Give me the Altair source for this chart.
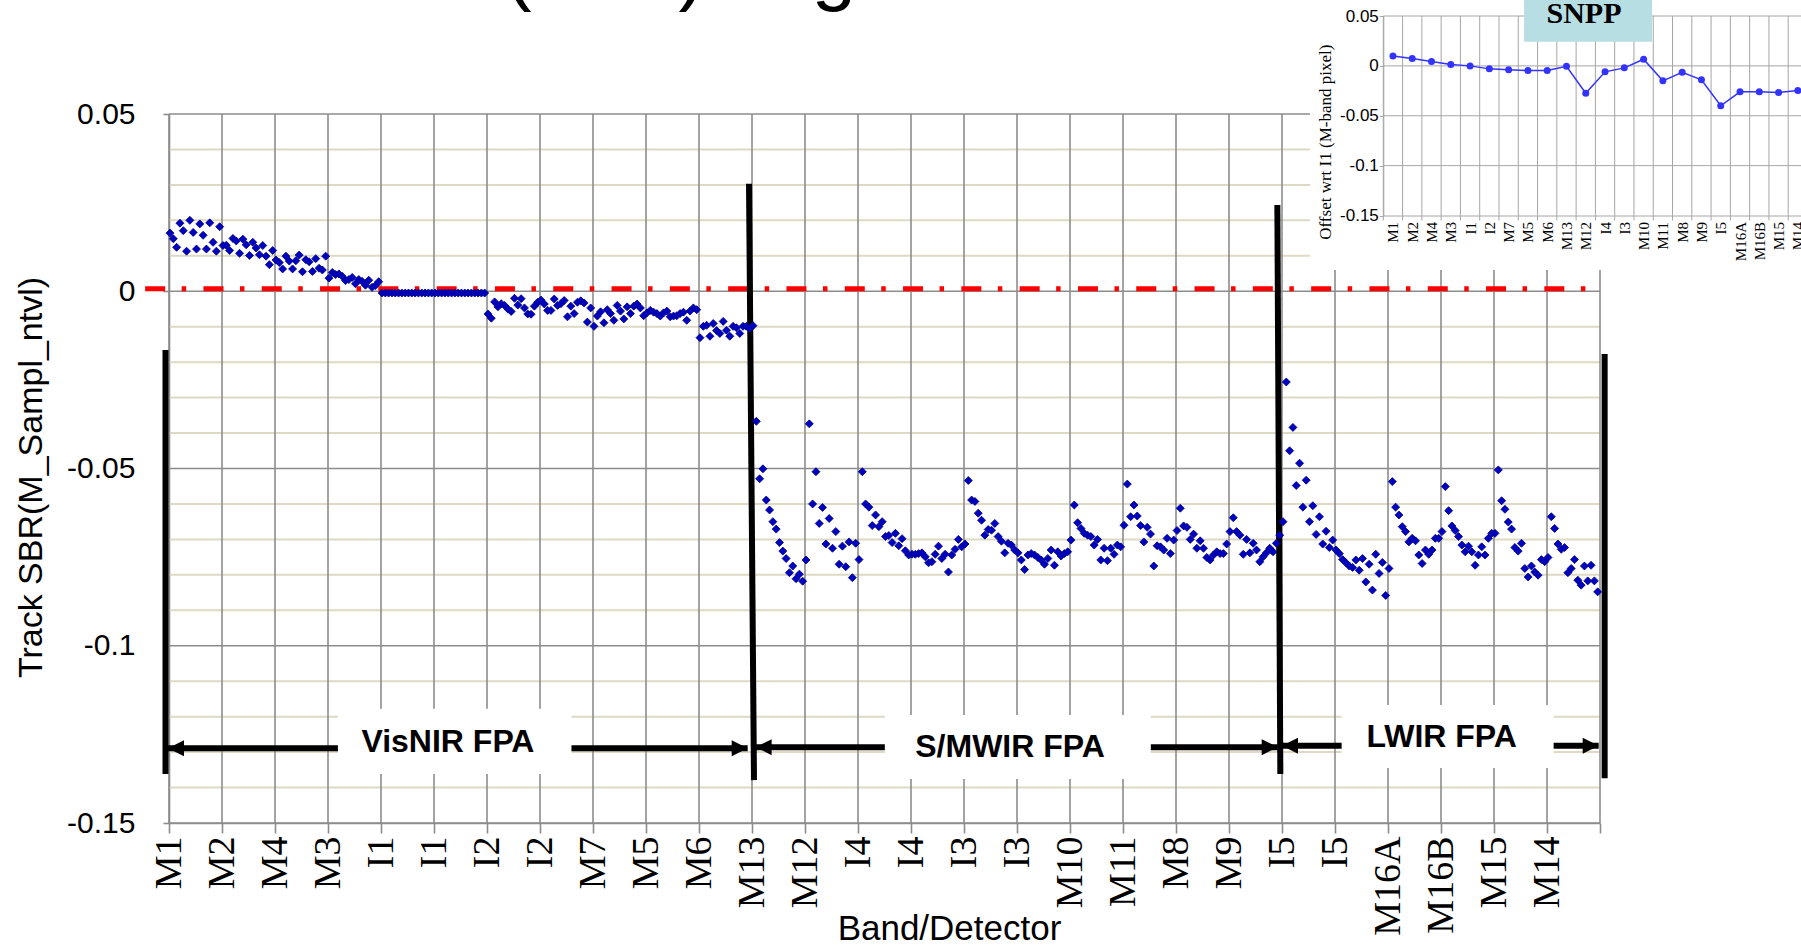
import altair as alt
import pandas as pd

# ---------------- main chart data: 16 detector values per tick interval ----------------
tick_labels = ["M1", "M2", "M4", "M3", "I1", "I1", "I2", "I2", "M7", "M5", "M6", "M13",
               "M12", "I4", "I4", "I3", "I3", "M10", "M11", "M8", "M9", "I5", "I5",
               "M16A", "M16B", "M15", "M14"]

sbr_M1 = [0.0164, 0.0148, 0.0124, 0.0192, 0.0171, 0.0113, 0.0200, 0.0166,
          0.0119, 0.0190, 0.0158, 0.0119, 0.0193, 0.0138, 0.0113, 0.0182]
sbr_M2 = [0.0129, 0.0130, 0.0115, 0.0149, 0.0142, 0.0107, 0.0147, 0.0131,
          0.0101, 0.0138, 0.0122, 0.0103, 0.0129, 0.0099, 0.0075, 0.0115]
sbr_M4 = [0.0088, 0.0081, 0.0063, 0.0099, 0.0085, 0.0063, 0.0086, 0.0102,
          0.0055, 0.0089, 0.0083, 0.0056, 0.0092, 0.0065, 0.0060, 0.0099]
sbr_M3 = [0.0037, 0.0053, 0.0047, 0.0049, 0.0042, 0.0030, 0.0033, 0.0039,
          0.0021, 0.0033, 0.0028, 0.0017, 0.0031, 0.0011, 0.0016, 0.0027]
sbr_I1a = [-0.0005, -0.0005, -0.0005, -0.0005, -0.0005, -0.0005, -0.0005, -0.0005,
           -0.0005, -0.0005, -0.0005, -0.0005, -0.0005, -0.0005, -0.0005, -0.0005]
sbr_I1b = [-0.0005, -0.0005, -0.0005, -0.0005, -0.0005, -0.0005, -0.0005, -0.0005,
           -0.0005, -0.0005, -0.0005, -0.0005, -0.0005, -0.0005, -0.0005, -0.0005]
sbr_I2a = [-0.0064, -0.0076, -0.0030, -0.0044, -0.0035, -0.0040, -0.0050, -0.0057,
           -0.0020, -0.0039, -0.0021, -0.0047, -0.0064, -0.0065, -0.0042, -0.0031]
sbr_I2b = [-0.0025, -0.0036, -0.0054, -0.0054, -0.0022, -0.0040, -0.0035, -0.0026,
           -0.0072, -0.0042, -0.0063, -0.0031, -0.0027, -0.0033, -0.0087, -0.0047]
sbr_M7 = [-0.0099, -0.0070, -0.0058, -0.0089, -0.0052, -0.0063, -0.0082, -0.0040,
          -0.0056, -0.0078, -0.0044, -0.0063, -0.0042, -0.0036, -0.0047, -0.0069]
sbr_M5 = [-0.0061, -0.0054, -0.0059, -0.0063, -0.0070, -0.0061, -0.0056, -0.0072,
          -0.0070, -0.0069, -0.0063, -0.0059, -0.0082, -0.0056, -0.0047, -0.0052]
sbr_M6 = [-0.0131, -0.0099, -0.0096, -0.0127, -0.0091, -0.0111, -0.0119, -0.0085,
          -0.0110, -0.0127, -0.0099, -0.0103, -0.0119, -0.0099, -0.0099, -0.0105]
sbr_M13 = [-0.0097, -0.0367, -0.0529, -0.0501, -0.0589, -0.0617, -0.0650, -0.0671,
           -0.0709, -0.0733, -0.0754, -0.0794, -0.0775, -0.0811, -0.0798, -0.0818]
sbr_M12 = [-0.0758, -0.0374, -0.0600, -0.0509, -0.0655, -0.0610, -0.0713, -0.0641,
           -0.0725, -0.0678, -0.0770, -0.0719, -0.0777, -0.0707, -0.0808, -0.0711]
sbr_I4a = [-0.0757, -0.0509, -0.0600, -0.0609, -0.0661, -0.0631, -0.0664, -0.0650,
           -0.0692, -0.0689, -0.0709, -0.0683, -0.0718, -0.0698, -0.0732, -0.0744]
sbr_I4b = [-0.0742, -0.0742, -0.0740, -0.0738, -0.0749, -0.0766, -0.0763, -0.0742,
           -0.0719, -0.0754, -0.0742, -0.0792, -0.0744, -0.0728, -0.0700, -0.0721]
sbr_I3a = [-0.0713, -0.0534, -0.0589, -0.0593, -0.0626, -0.0646, -0.0688, -0.0672,
           -0.0674, -0.0655, -0.0692, -0.0705, -0.0738, -0.0711, -0.0716, -0.0730]
sbr_I3b = [-0.0738, -0.0758, -0.0785, -0.0744, -0.0740, -0.0744, -0.0751, -0.0758,
           -0.0770, -0.0754, -0.0730, -0.0773, -0.0735, -0.0747, -0.0740, -0.0735]
sbr_M10 = [-0.0702, -0.0603, -0.0653, -0.0669, -0.0683, -0.0688, -0.0692, -0.0716,
           -0.0700, -0.0758, -0.0725, -0.0760, -0.0725, -0.0742, -0.0716, -0.0721]
sbr_M11 = [-0.0660, -0.0544, -0.0636, -0.0603, -0.0634, -0.0661, -0.0707, -0.0666,
           -0.0685, -0.0775, -0.0718, -0.0721, -0.0730, -0.0697, -0.0740, -0.0702]
sbr_M8 = [-0.0675, -0.0612, -0.0662, -0.0666, -0.0700, -0.0685, -0.0725, -0.0704,
          -0.0725, -0.0751, -0.0758, -0.0744, -0.0735, -0.0740, -0.0740, -0.0713]
sbr_M9 = [-0.0678, -0.0639, -0.0678, -0.0688, -0.0742, -0.0700, -0.0738, -0.0711,
          -0.0730, -0.0763, -0.0749, -0.0738, -0.0725, -0.0735, -0.0711, -0.0688]
sbr_I5a = [-0.0650, -0.0256, -0.0450, -0.0384, -0.0548, -0.0485, -0.0609, -0.0533,
           -0.0650, -0.0605, -0.0686, -0.0636, -0.0713, -0.0677, -0.0723, -0.0702]
sbr_I5b = [-0.0730, -0.0740, -0.0757, -0.0766, -0.0775, -0.0779, -0.0758, -0.0787,
           -0.0754, -0.0820, -0.0770, -0.0843, -0.0742, -0.0796, -0.0765, -0.0858]
sbr_M16A = [-0.0782, -0.0537, -0.0609, -0.0631, -0.0664, -0.0678, -0.0707, -0.0697,
            -0.0704, -0.0744, -0.0768, -0.0730, -0.0742, -0.0730, -0.0697, -0.0697]
sbr_M16B = [-0.0678, -0.0551, -0.0619, -0.0662, -0.0675, -0.0692, -0.0716, -0.0735,
            -0.0719, -0.0735, -0.0773, -0.0744, -0.0721, -0.0744, -0.0697, -0.0683]
sbr_M15 = [-0.0683, -0.0504, -0.0591, -0.0615, -0.0651, -0.0671, -0.0723, -0.0733,
           -0.0711, -0.0782, -0.0806, -0.0775, -0.0792, -0.0801, -0.0757, -0.0763]
sbr_M14 = [-0.0751, -0.0636, -0.0669, -0.0713, -0.0728, -0.0723, -0.0794, -0.0782,
           -0.0757, -0.0815, -0.0829, -0.0775, -0.0817, -0.0773, -0.0817, -0.0848]

segments = [sbr_M1, sbr_M2, sbr_M4, sbr_M3, sbr_I1a, sbr_I1b, sbr_I2a, sbr_I2b,
            sbr_M7, sbr_M5, sbr_M6, sbr_M13, sbr_M12, sbr_I4a, sbr_I4b, sbr_I3a,
            sbr_I3b, sbr_M10, sbr_M11, sbr_M8, sbr_M9, sbr_I5a, sbr_I5b, sbr_M16A,
            sbr_M16B, sbr_M15, sbr_M14]

# ---------------- inset (SNPP) data ----------------
snpp_bands = ["M1", "M2", "M4", "M3", "I1", "I2", "M7", "M5", "M6", "M13", "M12",
              "I4", "I3", "M10", "M11", "M8", "M9", "I5", "M16A", "M16B", "M15", "M14"]
snpp_offset = [0.0100, 0.0074, 0.0043, 0.0013, 0.0000, -0.0030, -0.0040, -0.0047,
               -0.0047, -0.0005, -0.0274, -0.0060, -0.0020, 0.0067, -0.0150, -0.0064,
               -0.0140, -0.0400, -0.0260, -0.0260, -0.0268, -0.0248]

# ---------------- annotations (in data units) ----------------
fpa_names = ["VisNIR FPA", "S/MWIR FPA", "LWIR FPA"]
fpa_text_x = [84.2, 253.9, 384.2]
fpa_text_y = [-0.1300, -0.1313, -0.1285]
fpa_arrow_y = [-0.1289, -0.1286, -0.1282]
fpa_left_tip = [-0.3, 177.1, 336.0]
fpa_box_x0 = [51.0, 216.1, 354.0]
fpa_box_x1 = [121.5, 296.4, 418.0]
fpa_right_tip = [174.7, 334.7, 431.6]
fpa_box_y0 = [-0.1362, -0.1376, -0.1345]
fpa_box_y1 = [-0.1178, -0.1195, -0.1167]

div_x_top = [-1.06, 175.1, 334.6, 433.4]
div_x_bot = [-1.06, 176.6, 335.5, 433.4]
div_y_top = [-0.0166, 0.0303, 0.0243, -0.0177]
div_y_bot = [-0.1362, -0.1379, -0.1362, -0.1374]

# ---------------- build tables ----------------
values = [v for seg in segments for v in seg]
det_df = pd.DataFrame({"idx": [i + 0.3 for i in range(len(values))], "sbr": values})
n_det = len(values)
tick_pos = list(range(0, n_det + 1, 16))

GRID = "#8c8c8c"
TAN = "#ddd9c3"
W, H = 1431, 709

xs = alt.Scale(domain=[0, n_det], nice=False, zero=False)
ys = alt.Scale(domain=[-0.15, 0.05], nice=False, zero=False)

minor_vals = [0.04, 0.03, 0.02, 0.01, -0.01, -0.02, -0.03, -0.04, -0.06, -0.07,
              -0.08, -0.09, -0.11, -0.12, -0.13, -0.14]
major_vals = [0.05, 0.0, -0.05, -0.1, -0.15]

minor = alt.Chart(pd.DataFrame({"y": minor_vals, "x0": 0, "x1": n_det})).mark_rule(
    color=TAN, strokeWidth=2).encode(
    x=alt.X("x0:Q", scale=xs, axis=None), x2="x1:Q",
    y=alt.Y("y:Q", scale=ys, axis=None))

vgrid = alt.Chart(pd.DataFrame({"x": tick_pos, "y0": -0.15, "y1": 0.05})).mark_rule(
    color=GRID, strokeWidth=1.6).encode(
    x=alt.X("x:Q", scale=xs, axis=None),
    y=alt.Y("y0:Q", scale=ys, axis=None), y2="y1:Q")

hgrid = alt.Chart(pd.DataFrame({"y": major_vals, "x0": 0, "x1": n_det})).mark_rule(
    color=GRID, strokeWidth=1.6).encode(
    x=alt.X("x0:Q", scale=xs, axis=None), x2="x1:Q",
    y=alt.Y("y:Q", scale=ys, axis=None))

red = alt.Chart(pd.DataFrame({"x0": [-7.2], "x1": [n_det], "y": [0.0]})).mark_rule(
    color="#ff0000", strokeWidth=5, strokeDash=[20, 16.5, 4.5, 17.3], yOffset=-2.5,
    strokeCap="butt").encode(
    x=alt.X("x0:Q", scale=xs, axis=None), x2="x1:Q",
    y=alt.Y("y:Q", scale=ys, axis=None))

boxes = alt.Chart(pd.DataFrame({"x0": fpa_box_x0, "x1": fpa_box_x1,
                                "y0": fpa_box_y0, "y1": fpa_box_y1})).mark_rect(
    color="white").encode(
    x=alt.X("x0:Q", scale=xs, axis=None), x2="x1:Q",
    y=alt.Y("y0:Q", scale=ys, axis=None), y2="y1:Q")

dividers = alt.Chart(pd.DataFrame({"x0": div_x_top, "x1": div_x_bot,
                                   "y0": div_y_top, "y1": div_y_bot})).mark_rule(
    color="black", strokeWidth=6).encode(
    x=alt.X("x0:Q", scale=xs, axis=None), x2="x1:Q",
    y=alt.Y("y0:Q", scale=ys, axis=None), y2="y1:Q")

shafts = alt.Chart(pd.DataFrame({"x0": fpa_left_tip + fpa_box_x1,
                                 "x1": fpa_box_x0 + fpa_right_tip,
                                 "y": fpa_arrow_y + fpa_arrow_y})).mark_rule(
    color="black", strokeWidth=6).encode(
    x=alt.X("x0:Q", scale=xs, axis=None), x2="x1:Q",
    y=alt.Y("y:Q", scale=ys, axis=None))

heads_left = alt.Chart(pd.DataFrame({"x": fpa_left_tip, "y": fpa_arrow_y})).mark_point(
    shape="M-1,0L1,-1L1,1Z", filled=True, size=256, color="black", opacity=1,
    xOffset=8).encode(
    x=alt.X("x:Q", scale=xs, axis=None), y=alt.Y("y:Q", scale=ys, axis=None))

heads_right = alt.Chart(pd.DataFrame({"x": fpa_right_tip, "y": fpa_arrow_y})).mark_point(
    shape="M1,0L-1,-1L-1,1Z", filled=True, size=256, color="black", opacity=1,
    xOffset=-8).encode(
    x=alt.X("x:Q", scale=xs, axis=None), y=alt.Y("y:Q", scale=ys, axis=None))

fpa_text = alt.Chart(pd.DataFrame({"x": fpa_text_x, "y": fpa_text_y,
                                   "t": fpa_names})).mark_text(
    font="Liberation Sans", fontWeight="bold", fontSize=32, align="center",
    baseline="alphabetic", color="black").encode(
    x=alt.X("x:Q", scale=xs, axis=None), y=alt.Y("y:Q", scale=ys, axis=None),
    text="t:N")

# cut-off slide title above the chart (only descenders visible)
top_title = alt.Chart(pd.DataFrame({"x": [-21.1], "y": [0.0835],
                                    "t": ["Track SBR (N20) Alignment"]})).mark_text(
    font="Liberation Sans", fontSize=80, align="left", baseline="alphabetic",
    color="black").encode(
    x=alt.X("x:Q", scale=xs, axis=None), y=alt.Y("y:Q", scale=ys, axis=None),
    text="t:N")

label_js = "[" + ",".join("'" + s + "'" for s in tick_labels) + "]"

points = alt.Chart(det_df).mark_point(
    shape="diamond", filled=True, size=64, color="#0000c0", opacity=1,
    stroke="#000080", strokeWidth=0.8).encode(
    x=alt.X("idx:Q", scale=xs, axis=alt.Axis(
        orient="bottom", values=tick_pos,
        labelExpr=label_js + "[datum.value/16] || ''",
        labelAngle=-90, labelFont="Liberation Serif", labelFontSize=38,
        labelColor="black", labelPadding=3, labelOverlap=False, labelFlush=False,
        tickSize=10, tickColor=GRID, tickWidth=1.6,
        domainColor=GRID, domainWidth=1.6, grid=False,
        title="Band/Detector", titleFont="Liberation Sans", titleFontSize=35,
        titleFontWeight="normal", titleColor="black", titleX=780, titleY=116,
        titleBaseline="alphabetic", titleAlign="center")),
    y=alt.Y("sbr:Q", scale=ys, axis=alt.Axis(
        orient="left", values=major_vals, labelExpr="toString(datum.value)",
        labelFont="Liberation Sans", labelFontSize=30, labelColor="black",
        labelPadding=28, labelFlush=False, labelOverlap=False,
        tickSize=6, tickColor=GRID, tickWidth=1.6,
        domainColor=GRID, domainWidth=1.6, grid=False,
        title="Track SBR(M_Sampl_ntvl)", titleFont="Liberation Sans", titleFontSize=34,
        titleFontWeight="normal", titleColor="black", titleAngle=270,
        titleX=-128, titleY=363, titleBaseline="alphabetic", titleAlign="center")))

main_layers = [minor, vgrid, hgrid, red, boxes, dividers, points, shafts,
               heads_left, heads_right, fpa_text, top_title]

# ---------------- inset ----------------
n_b = len(snpp_bands)
ixs = alt.Scale(domain=[0, n_b], range=[1214.3, 1638.5], nice=False, zero=False)
iys = alt.Scale(domain=[-0.15, 0.05], range=[101.5, -98], nice=False, zero=False)
IGRID = "#a6a6a6"

inset_df = pd.DataFrame({"pos": [i + 0.5 for i in range(n_b)], "off": snpp_offset,
                         "band": snpp_bands})

i_white = alt.Chart(pd.DataFrame({"x0": [-3.8], "x1": [23.0], "y0": [-0.2046],
                                  "y1": [0.075]})).mark_rect(color="white").encode(
    x=alt.X("x0:Q", scale=ixs, axis=None), x2="x1:Q",
    y=alt.Y("y0:Q", scale=iys, axis=None), y2="y1:Q")

i_vgrid = alt.Chart(pd.DataFrame({"x": list(range(0, n_b + 1)), "y0": -0.15,
                                  "y1": 0.05})).mark_rule(
    color=IGRID, strokeWidth=1).encode(
    x=alt.X("x:Q", scale=ixs, axis=None),
    y=alt.Y("y0:Q", scale=iys, axis=None), y2="y1:Q")

i_ticks = alt.Chart(pd.DataFrame({"x": list(range(0, n_b + 1)), "y0": -0.15,
                                  "y1": -0.155})).mark_rule(
    color=IGRID, strokeWidth=1).encode(
    x=alt.X("x:Q", scale=ixs, axis=None),
    y=alt.Y("y0:Q", scale=iys, axis=None), y2="y1:Q")

i_hgrid = alt.Chart(pd.DataFrame({"y": [0.05, 0.0, -0.05, -0.1], "x0": 0,
                                  "x1": n_b})).mark_rule(
    color=IGRID, strokeWidth=1).encode(
    x=alt.X("x0:Q", scale=ixs, axis=None), x2="x1:Q",
    y=alt.Y("y:Q", scale=iys, axis=None))

i_badge = alt.Chart(pd.DataFrame({"x0": [7.3], "x1": [13.94], "y0": [0.0242],
                                  "y1": [0.075]})).mark_rect(color="#b7dee3").encode(
    x=alt.X("x0:Q", scale=ixs, axis=None), x2="x1:Q",
    y=alt.Y("y0:Q", scale=iys, axis=None), y2="y1:Q")

i_badge_text = alt.Chart(pd.DataFrame({"x": [10.41], "y": [0.043],
                                       "t": ["SNPP"]})).mark_text(
    font="Liberation Serif", fontWeight="bold", fontSize=30, color="black",
    align="center", baseline="alphabetic").encode(
    x=alt.X("x:Q", scale=ixs, axis=None), y=alt.Y("y:Q", scale=iys, axis=None),
    text="t:N")

inset_js = "[" + ",".join("'" + s + "'" for s in snpp_bands) + "]"

i_line = alt.Chart(inset_df).mark_line(color="#3333ff", strokeWidth=1.5).encode(
    x=alt.X("pos:Q", scale=ixs, axis=alt.Axis(
        orient="bottom", offset=-607.5, values=[i + 0.5 for i in range(n_b)],
        labelExpr=inset_js + "[floor(datum.value)]",
        labelAngle=-90, labelFont="Liberation Serif", labelFontSize=15,
        labelColor="black", labelPadding=6, labelOverlap=False, labelFlush=False,
        ticks=False, domainColor=IGRID, domainWidth=1, grid=False, title=None,
        zindex=1)),
    y=alt.Y("off:Q", scale=iys, axis=alt.Axis(
        orient="left", offset=-1214.3, values=[0.05, 0.0, -0.05, -0.1, -0.15],
        labelExpr="toString(datum.value)", labelFont="Liberation Sans",
        labelFontSize=17, labelColor="black", labelPadding=1, labelFlush=False,
        labelOverlap=False, tickSize=4, tickColor=IGRID, domainColor=IGRID,
        domainWidth=1, grid=False,
        title="Offset wrt I1 (M-band pixel)", titleFont="Liberation Serif",
        titleFontSize=17, titleFontWeight="normal", titleColor="black",
        titleAngle=270, titleX=-53.3, titleY=27.7, titleBaseline="alphabetic",
        titleAlign="center", zindex=1)))

i_pts = alt.Chart(inset_df).mark_circle(color="#3333ff", size=49, opacity=1).encode(
    x=alt.X("pos:Q", scale=ixs, axis=None), y=alt.Y("off:Q", scale=iys, axis=None))

inset_layers = [i_white, i_vgrid, i_hgrid, i_ticks, i_badge, i_badge_text,
                i_line, i_pts]

chart = alt.layer(*(main_layers + inset_layers)).resolve_scale(
    x="independent", y="independent").properties(
    width=W, height=H,
    padding={"left": 169, "top": 114, "right": 201, "bottom": 123},
    autosize=alt.AutoSizeParams(type="none"),
    background="white").configure_view(strokeWidth=0)

chart.save("out.html", embed_options={"renderer": "svg", "actions": False})
